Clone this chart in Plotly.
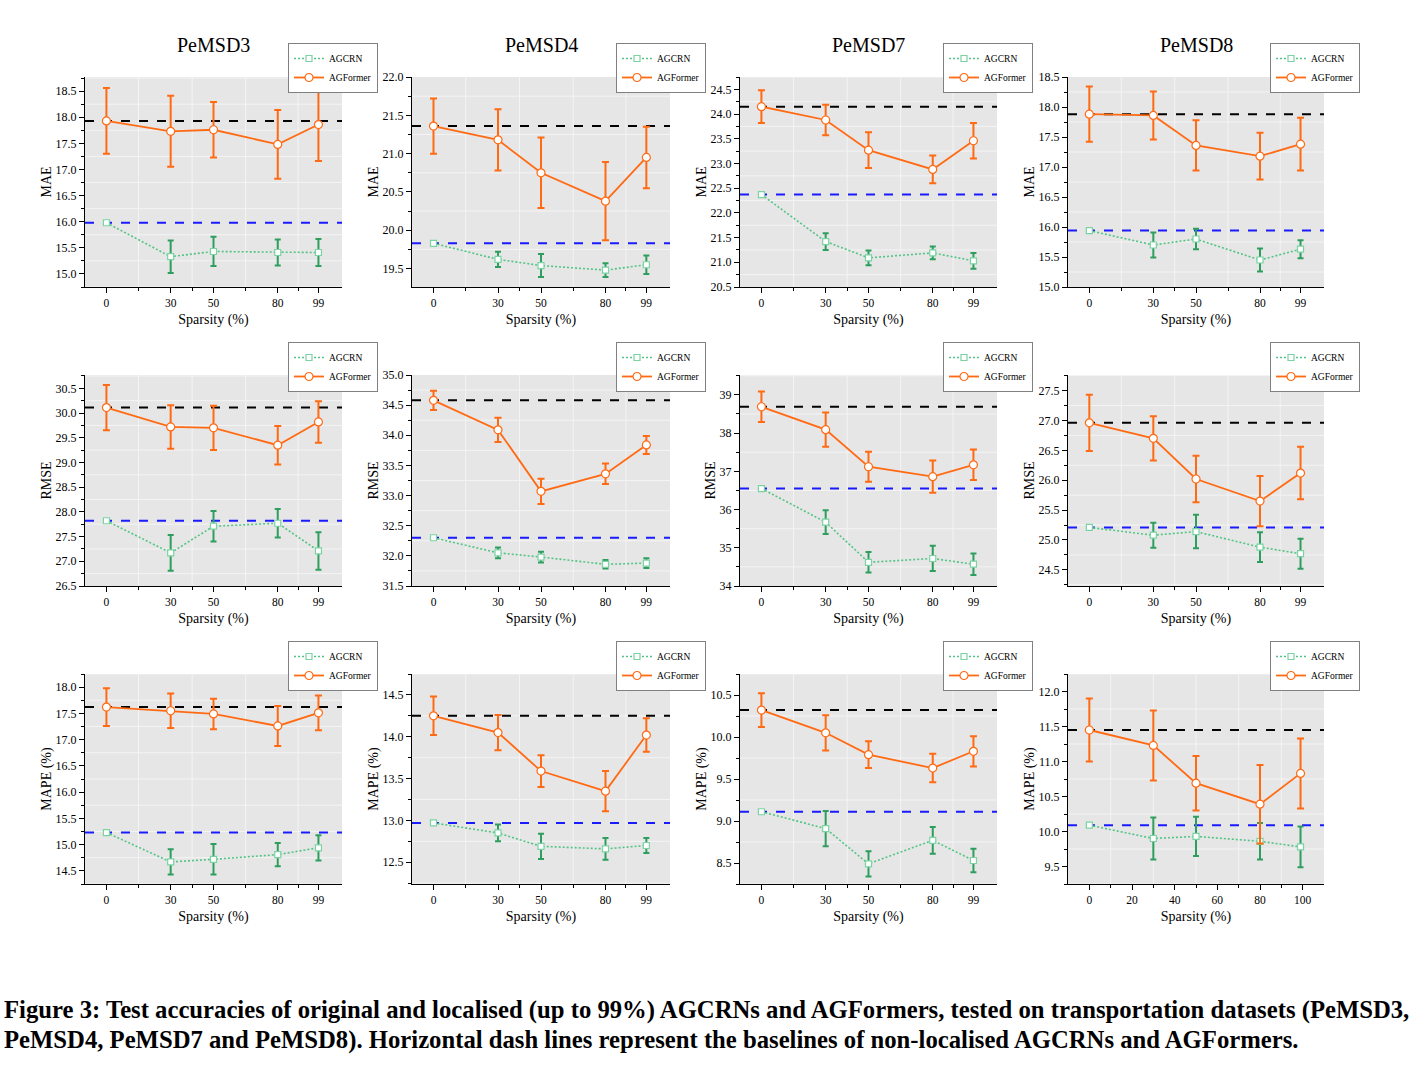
import math
import plotly.graph_objects as go

# ---------------- data ----------------
datasets = ["PeMSD3", "PeMSD4", "PeMSD7", "PeMSD8"]
metrics = ["MAE", "RMSE", "MAPE (%)"]
sparsity = [0, 30, 50, 80, 99]
sparsity_ticks = [0, 30, 50, 80, 99]
sparsity_ticks_last = [0, 20, 40, 60, 80, 100]

# MAE
mae_d3_agformer = [17.93, 17.73, 17.76, 17.48, 17.86]
mae_d3_agformer_err = [0.63, 0.68, 0.53, 0.66, 0.70]
mae_d3_agcrn = [15.98, 15.33, 15.43, 15.41, 15.41]
mae_d3_agcrn_err = [0.0, 0.31, 0.28, 0.25, 0.26]

mae_d4_agformer = [21.36, 21.18, 20.75, 20.38, 20.95]
mae_d4_agformer_err = [0.36, 0.40, 0.46, 0.51, 0.40]
mae_d4_agcrn = [19.83, 19.62, 19.54, 19.48, 19.55]
mae_d4_agcrn_err = [0.0, 0.10, 0.15, 0.09, 0.12]

mae_d7_agformer = [24.15, 23.88, 23.27, 22.88, 23.46]
mae_d7_agformer_err = [0.33, 0.31, 0.36, 0.28, 0.36]
mae_d7_agcrn = [22.37, 21.42, 21.09, 21.19, 21.03]
mae_d7_agcrn_err = [0.0, 0.17, 0.15, 0.13, 0.16]

mae_d8_agformer = [17.88, 17.86, 17.36, 17.18, 17.38]
mae_d8_agformer_err = [0.46, 0.40, 0.42, 0.39, 0.44]
mae_d8_agcrn = [15.94, 15.70, 15.80, 15.45, 15.63]
mae_d8_agcrn_err = [0.0, 0.21, 0.17, 0.19, 0.15]

# RMSE
rmse_d3_agformer = [30.11, 29.72, 29.70, 29.35, 29.82]
rmse_d3_agformer_err = [0.46, 0.44, 0.45, 0.39, 0.42]
rmse_d3_agcrn = [27.82, 27.17, 27.71, 27.77, 27.21]
rmse_d3_agcrn_err = [0.0, 0.36, 0.31, 0.29, 0.38]

rmse_d4_agformer = [34.58, 34.09, 33.07, 33.36, 33.84]
rmse_d4_agformer_err = [0.16, 0.20, 0.21, 0.17, 0.15]
rmse_d4_agcrn = [32.30, 32.05, 31.98, 31.86, 31.88]
rmse_d4_agcrn_err = [0.0, 0.09, 0.09, 0.07, 0.08]

rmse_d7_agformer = [38.69, 38.09, 37.12, 36.86, 37.17]
rmse_d7_agformer_err = [0.40, 0.45, 0.39, 0.42, 0.40]
rmse_d7_agcrn = [36.55, 35.67, 34.62, 34.72, 34.57]
rmse_d7_agcrn_err = [0.0, 0.31, 0.27, 0.33, 0.28]

rmse_d8_agformer = [26.96, 26.70, 26.02, 25.65, 26.12]
rmse_d8_agformer_err = [0.47, 0.37, 0.39, 0.42, 0.44]
rmse_d8_agcrn = [25.21, 25.08, 25.14, 24.88, 24.77]
rmse_d8_agcrn_err = [0.0, 0.21, 0.28, 0.25, 0.25]

# MAPE
mape_d3_agformer = [17.62, 17.55, 17.49, 17.26, 17.51]
mape_d3_agformer_err = [0.36, 0.33, 0.29, 0.38, 0.33]
mape_d3_agcrn = [15.23, 14.67, 14.72, 14.81, 14.94]
mape_d3_agcrn_err = [0.0, 0.24, 0.29, 0.22, 0.24]

mape_d4_agformer = [14.25, 14.05, 13.59, 13.35, 14.02]
mape_d4_agformer_err = [0.23, 0.21, 0.19, 0.24, 0.20]
mape_d4_agcrn = [12.97, 12.85, 12.69, 12.66, 12.70]
mape_d4_agcrn_err = [0.0, 0.10, 0.15, 0.13, 0.09]

mape_d7_agformer = [10.32, 10.05, 9.79, 9.63, 9.83]
mape_d7_agformer_err = [0.20, 0.21, 0.16, 0.17, 0.18]
mape_d7_agcrn = [9.11, 8.91, 8.49, 8.77, 8.53]
mape_d7_agcrn_err = [0.0, 0.21, 0.15, 0.16, 0.14]

mape_d8_agformer = [11.45, 11.23, 10.69, 10.39, 10.83]
mape_d8_agformer_err = [0.45, 0.50, 0.39, 0.56, 0.50]
mape_d8_agcrn = [10.09, 9.90, 9.93, 9.86, 9.78]
mape_d8_agcrn_err = [0.0, 0.30, 0.28, 0.26, 0.29]

caption_line1 = ("Figure 3: Test accuracies of original and localised (up to 99%) AGCRNs and AGFormers, "
                 "tested on transportation datasets (PeMSD3,")
caption_line2 = ("PeMSD4, PeMSD7 and PeMSD8). Horizontal dash lines represent the baselines of "
                 "non-localised AGCRNs and AGFormers.")

panels = [
    (mae_d3_agformer, mae_d3_agformer_err, mae_d3_agcrn, mae_d3_agcrn_err),
    (mae_d4_agformer, mae_d4_agformer_err, mae_d4_agcrn, mae_d4_agcrn_err),
    (mae_d7_agformer, mae_d7_agformer_err, mae_d7_agcrn, mae_d7_agcrn_err),
    (mae_d8_agformer, mae_d8_agformer_err, mae_d8_agcrn, mae_d8_agcrn_err),
    (rmse_d3_agformer, rmse_d3_agformer_err, rmse_d3_agcrn, rmse_d3_agcrn_err),
    (rmse_d4_agformer, rmse_d4_agformer_err, rmse_d4_agcrn, rmse_d4_agcrn_err),
    (rmse_d7_agformer, rmse_d7_agformer_err, rmse_d7_agcrn, rmse_d7_agcrn_err),
    (rmse_d8_agformer, rmse_d8_agformer_err, rmse_d8_agcrn, rmse_d8_agcrn_err),
    (mape_d3_agformer, mape_d3_agformer_err, mape_d3_agcrn, mape_d3_agcrn_err),
    (mape_d4_agformer, mape_d4_agformer_err, mape_d4_agcrn, mape_d4_agcrn_err),
    (mape_d7_agformer, mape_d7_agformer_err, mape_d7_agcrn, mape_d7_agcrn_err),
    (mape_d8_agformer, mape_d8_agformer_err, mape_d8_agcrn, mape_d8_agcrn_err),
]

# ---------------- styling / layout ----------------
W, H = 1426, 1074
SERIF = "Liberation Serif"
ORANGE = "#FF6A13"
GREEN_LINE = "#52C486"
GREEN_MARK = "#7BD3A4"
GREEN_ERR = "#2E9E5E"
BLUE = "#1A1AFF"
BG = "#E6E6E6"
GRID = "#F4F4F4"


def px_x(p):
    return p / W


def px_y(p):
    return 1 - p / H


col_px = [(85, 342), (412, 670), (740, 997), (1068, 1324)]
row_px = [(77, 287), (375, 586), (674, 884)]
legend_top_px = [43, 342, 641]

y_ranges = [
    [14.75, 18.77], [19.26, 22.0], [20.5, 24.75], [15.0, 18.5],
    [26.5, 30.77], [31.5, 35.0], [34.0, 39.52], [24.23, 27.76],
    [14.25, 18.25], [12.24, 14.75], [8.25, 10.75], [9.25, 12.25],
]
y_dticks = [0.5, 0.5, 0.5, 0.5, 0.5, 0.5, 1.0, 0.5, 0.5, 0.5, 0.5, 0.5]

fig = go.Figure()
layout = dict(
    width=W, height=H,
    margin=dict(l=0, r=0, t=0, b=0, autoexpand=False),
    paper_bgcolor="white",
    plot_bgcolor=BG,
    font=dict(family=SERIF, color="black"),
    annotations=[], shapes=[],
)

for i, (agf, agf_err, agc, agc_err) in enumerate(panels):
    r, c = divmod(i, 4)
    sid = "" if i == 0 else str(i + 1)
    xa, ya = "x" + sid, "y" + sid
    leg = "legend" if i == 0 else f"legend{i + 1}"

    fig.add_trace(go.Scatter(
        x=sparsity, y=agc, name="AGCRN", mode="lines+markers",
        xaxis=xa, yaxis=ya, legend=leg,
        line=dict(color=GREEN_LINE, dash="2px,2px", width=1.6),
        marker=dict(symbol="square", size=6, color="white",
                    line=dict(color=GREEN_MARK, width=1.2)),
        error_y=dict(type="data", array=agc_err, color=GREEN_ERR,
                     thickness=2, width=3),
    ))
    fig.add_trace(go.Scatter(
        x=sparsity, y=agf, name="AGFormer", mode="lines+markers",
        xaxis=xa, yaxis=ya, legend=leg,
        line=dict(color=ORANGE, width=1.8),
        marker=dict(symbol="circle", size=8, color="white",
                    line=dict(color=ORANGE, width=1.2)),
        error_y=dict(type="data", array=agf_err, color=ORANGE,
                     thickness=2, width=3.5),
    ))

    x0, x1 = col_px[c]
    y0, y1 = row_px[r]
    xdom = [px_x(x0), px_x(x1)]
    ydom = [px_y(y1), px_y(y0)]

    if i == 11:
        xt = sparsity_ticks_last
        xminor = [10, 30, 50, 70, 90]
    else:
        xt = sparsity_ticks
        xminor = [(a + b) / 2 for a, b in zip(xt[:-1], xt[1:])]

    layout["xaxis" + sid] = dict(
        domain=xdom, range=[-10, 110], anchor=ya,
        tickmode="array", tickvals=xt, ticktext=[str(v) for v in xt],
        ticks="outside", ticklen=5, tickcolor="black", tickwidth=1,
        showline=True, linecolor="black", linewidth=1.2,
        showgrid=False, zeroline=False, automargin=False,
        tickfont=dict(size=11.5, family=SERIF),
        minor=dict(tickmode="array", tickvals=xminor, ticks="outside",
                   ticklen=3, tickcolor="black", showgrid=False),
        title=dict(text="Sparsity (%)", font=dict(size=14, family=SERIF), standoff=6),
    )
    dt = y_dticks[i]
    rng = y_ranges[i]
    layout["yaxis" + sid] = dict(
        domain=ydom, range=rng, anchor=xa,
        tickmode="linear", dtick=dt, tick0=0,
        tickformat=".0f" if dt >= 1 else ".1f",
        ticks="outside", ticklen=5, tickcolor="black", tickwidth=1,
        showline=True, linecolor="black", linewidth=1.2,
        showgrid=False, zeroline=False, automargin=False,
        tickfont=dict(size=12, family=SERIF),
        minor=dict(dtick=dt / 2, ticks="outside", ticklen=3,
                   tickcolor="black", showgrid=False),
        title=dict(text=metrics[r], font=dict(size=14, family=SERIF), standoff=0),
    )

    # faint white grid at the minor-tick positions (drawn beneath everything)
    for gx in xminor:
        layout["shapes"].append(dict(
            type="line", xref=xa, yref=ya + " domain", x0=gx, x1=gx, y0=0, y1=1,
            layer="below", line=dict(color=GRID, width=1)))
    k0 = math.ceil(rng[0] / (dt / 2))
    k1 = math.floor(rng[1] / (dt / 2))
    for k in range(k0, k1 + 1):
        if k % 2 == 1:
            gy = k * dt / 2
            layout["shapes"].append(dict(
                type="line", xref=xa + " domain", yref=ya, x0=0, x1=1, y0=gy, y1=gy,
                layer="below", line=dict(color=GRID, width=1)))

    # baselines (non-localised values at sparsity 0)
    layout["shapes"].append(dict(
        type="line", xref=xa + " domain", yref=ya, x0=0, x1=1,
        y0=agf[0], y1=agf[0], layer="below",
        line=dict(color="black", dash="dash", width=2)))
    layout["shapes"].append(dict(
        type="line", xref=xa + " domain", yref=ya, x0=0, x1=1,
        y0=agc[0], y1=agc[0], layer="below",
        line=dict(color=BLUE, dash="dash", width=2)))

    if r == 0:
        layout["annotations"].append(dict(
            text=datasets[c], xref="paper", yref="paper",
            x=px_x((x0 + x1) / 2), y=px_y(45), xanchor="center", yanchor="middle",
            showarrow=False, font=dict(size=20, family=SERIF)))

    layout[leg] = dict(
        x=px_x(x1 - 54), y=px_y(legend_top_px[r]),
        xanchor="left", yanchor="top",
        bgcolor="white", bordercolor="#808080", borderwidth=1,
        font=dict(size=9.5, family=SERIF),
        itemwidth=30, tracegroupgap=0, traceorder="normal",
    )

layout["annotations"].append(dict(
    text="<b>" + caption_line1 + "</b>", xref="paper", yref="paper",
    x=px_x(2), y=px_y(1010), xanchor="left", yanchor="middle",
    showarrow=False, font=dict(size=24.7, family=SERIF)))
layout["annotations"].append(dict(
    text="<b>" + caption_line2 + "</b>", xref="paper", yref="paper",
    x=px_x(2), y=px_y(1040), xanchor="left", yanchor="middle",
    showarrow=False, font=dict(size=24.7, family=SERIF)))

fig.update_layout(**layout)
fig.write_html("out.html", config={"displayModeBar": False},
               post_script="document.body.style.margin='0px';")
